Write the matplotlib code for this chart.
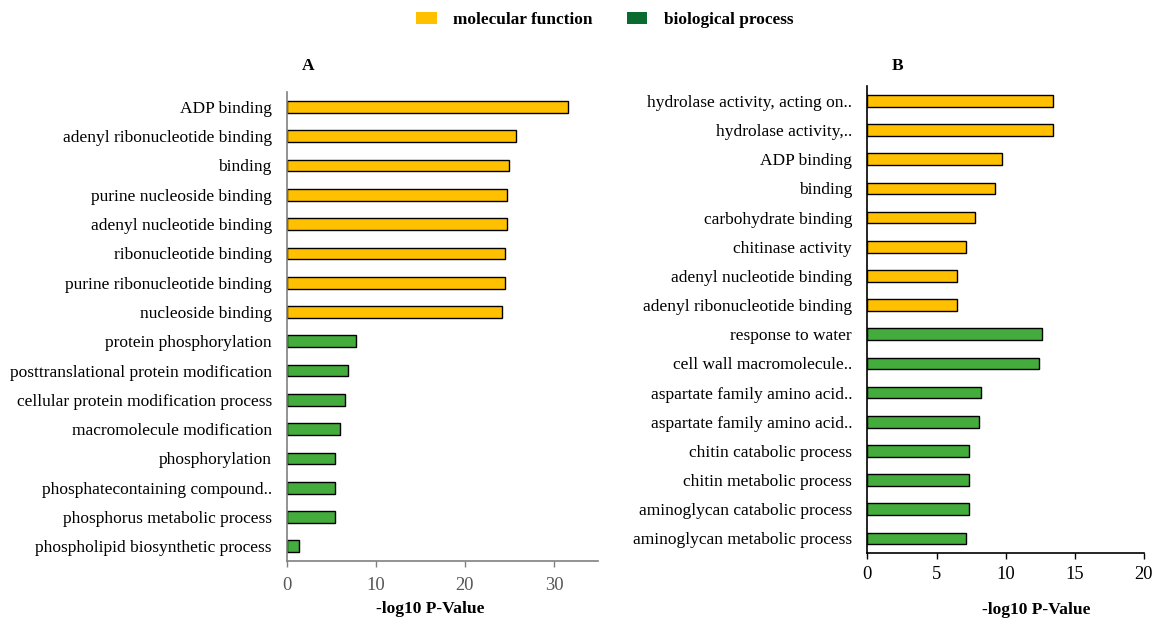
import matplotlib
matplotlib.use("Agg")
import matplotlib.pyplot as plt
import matplotlib.patches as patches

plt.rcParams['font.family'] = ['Liberation Serif', 'DejaVu Serif']

MF_COLOR = '#FFC000'
BP_COLOR = '#43AC3C'
BP_LEGEND = '#0B6A30'

# Panel A: terms and -log10 P-values (top to bottom)
terms_a = ['ADP binding', 'adenyl ribonucleotide binding', 'binding',
           'purine nucleoside binding', 'adenyl nucleotide binding',
           'ribonucleotide binding', 'purine ribonucleotide binding',
           'nucleoside binding', 'protein phosphorylation',
           'posttranslational protein modification',
           'cellular protein modification process',
           'macromolecule modification', 'phosphorylation',
           'phosphatecontaining compound..', 'phosphorus metabolic process',
           'phospholipid biosynthetic process']
values_a = [31.6, 25.7, 25.0, 24.7, 24.7, 24.5, 24.5, 24.2,
            7.8, 6.8, 6.5, 6.0, 5.4, 5.4, 5.4, 1.4]
groups_a = ['MF'] * 8 + ['BP'] * 8

# Panel B
terms_b = ['hydrolase activity, acting on..', 'hydrolase activity,..',
           'ADP binding', 'binding', 'carbohydrate binding',
           'chitinase activity', 'adenyl nucleotide binding',
           'adenyl ribonucleotide binding', 'response to water',
           'cell wall macromolecule..', 'aspartate family amino acid..',
           'aspartate family amino acid..', 'chitin catabolic process',
           'chitin metabolic process', 'aminoglycan catabolic process',
           'aminoglycan metabolic process']
values_b = [13.4, 13.4, 9.7, 9.2, 7.8, 7.1, 6.5, 6.5,
            12.6, 12.4, 8.2, 8.1, 7.35, 7.35, 7.35, 7.1]
groups_b = ['MF'] * 8 + ['BP'] * 8


def draw_panel(ax, terms, values, groups, xmax, xticks, axis_color, tick_color, xpad):
    colors = [MF_COLOR if g == 'MF' else BP_COLOR for g in groups]
    pos = list(range(len(terms)))
    ax.barh(pos, values, height=0.4, color=colors,
            edgecolor='black', linewidth=1.0)
    ax.set_ylim(len(terms) - 0.5, -0.5)
    ax.set_xlim(0, xmax)
    ax.set_yticks(pos)
    ax.set_yticklabels(terms, fontsize=12.5)
    ax.tick_params(axis='y', length=0, pad=11)
    ax.set_xticks(xticks)
    ax.tick_params(axis='x', length=4, width=1, color=axis_color,
                   labelcolor=tick_color, labelsize=13.3, pad=xpad)
    ax.spines['top'].set_visible(False)
    ax.spines['right'].set_visible(False)
    ax.spines['left'].set_color(axis_color)
    ax.spines['bottom'].set_color(axis_color)
    ax.spines['left'].set_linewidth(1.2)
    ax.spines['bottom'].set_linewidth(1.2)
    ax.set_xlabel('-log10 P-Value', fontsize=12.6, fontweight='bold')


fig = plt.figure(figsize=(11.56, 6.19), dpi=100)

ax_a = fig.add_axes([0.2483, 0.0937, 0.2694, 0.7573])
draw_panel(ax_a, terms_a, values_a, groups_a, 35, [0, 10, 20, 30],
           '#808080', '#555555', 7.5)
ax_a.xaxis.set_label_coords(0.46, -0.085)

ax_b = fig.add_axes([0.7503, 0.1066, 0.2393, 0.7538])
draw_panel(ax_b, terms_b, values_b, groups_b, 20, [0, 5, 10, 15, 20],
           'black', 'black', 5)
ax_b.xaxis.set_label_coords(0.61, -0.105)

fig.text(308 / 1156, 1 - 66 / 619, 'A', fontsize=12.5, fontweight='bold',
         ha='center', va='center')
fig.text(898 / 1156, 1 - 66 / 619, 'B', fontsize=12.5, fontweight='bold',
         ha='center', va='center')

handles = [patches.Patch(facecolor=MF_COLOR, edgecolor='none', label='molecular function'),
           patches.Patch(facecolor=BP_LEGEND, edgecolor='none', label='biological process')]
fig.legend(handles=handles, loc='center', bbox_to_anchor=(0.523, 0.968),
           ncol=2, frameon=False, prop={'weight': 'bold', 'size': 12.4},
           handlelength=1.2, handleheight=0.7, handletextpad=0.95,
           columnspacing=2.0)

fig.savefig('out.png', dpi=100, facecolor='white')
